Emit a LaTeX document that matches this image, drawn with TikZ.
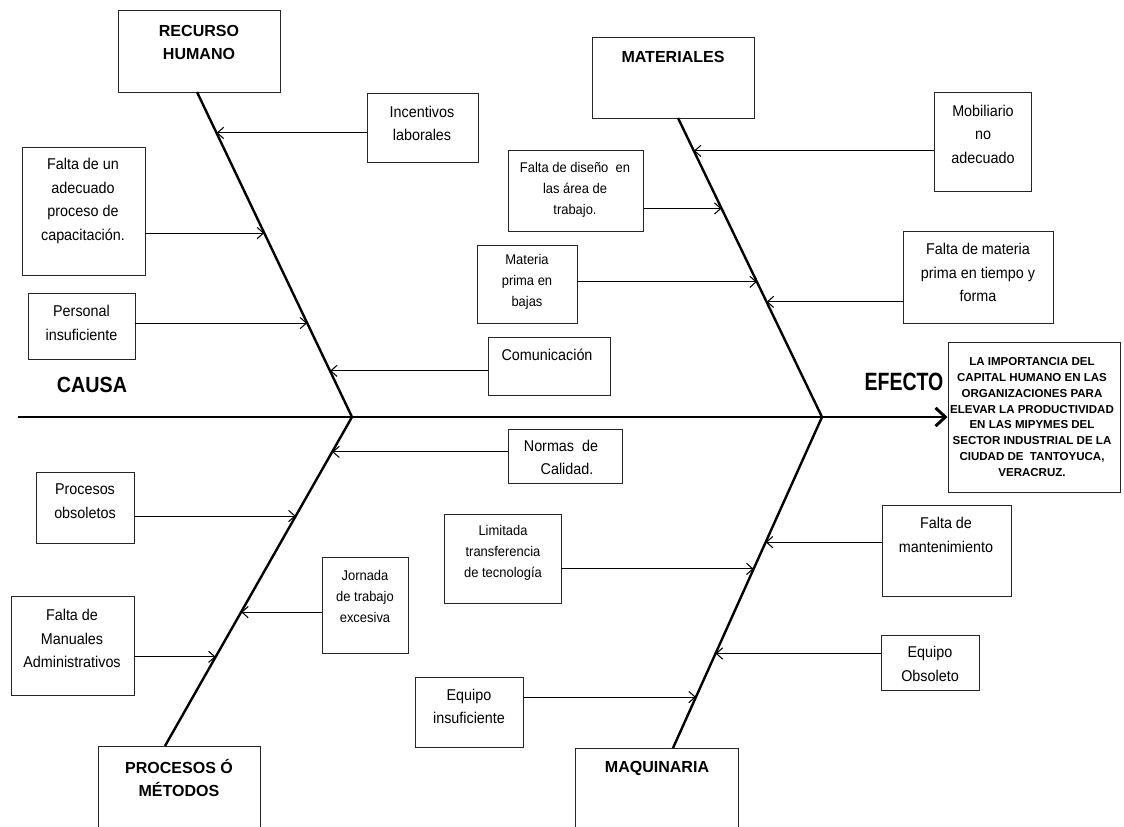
\documentclass[tikz,border=0pt]{standalone}
\usepackage{fontspec}
\setmainfont{Liberation Sans}
\newfontfamily\notefont{Liberation Sans}[FakeStretch=0.92]
\newfontfamily\condbold{Liberation Sans Bold}[FakeStretch=0.78]
\newfontfamily\causafont{Liberation Sans Bold}[FakeStretch=0.9]
\usetikzlibrary{arrows.meta,calc,fit}

\tikzset{
  box/.style={draw=black!85, line width=0.7pt, inner sep=0pt},
  note/.style={align=center, inner sep=0pt, font=\notefont\fontsize{11.1}{16.7}\selectfont},
  notesmall/.style={align=center, inner sep=0pt, font=\notefont\fontsize{10.0}{14.9}\selectfont},
  head/.style={align=center, inner sep=0pt, font=\bfseries\fontsize{11.4}{16.4}\selectfont},
  efftext/.style={align=center, inner sep=0pt, font=\bfseries\fontsize{8.2}{11.2}\selectfont},
  bone/.style={line width=1.7pt, line join=round},
  spine/.style={line width=2.1pt, -{Straight Barb[length=7pt,width=13pt]}},
  cause/.style={line width=0.75pt, -{Straight Barb[length=4.5pt,width=8pt]}},
}

\begin{document}
\begin{tikzpicture}[x=0.025cm, y=-0.025cm]
\clip (0,0) rectangle (1124,827);
\fill[white] (0,0) rectangle (1124,827);

% ---- category boxes ----
\node[box, fit={(118,10) (280,92)}] (rh) {};
\node[head] (rht) at (199,42.5) {RECURSO\\HUMANO};
\node[box, fit={(592,37) (754,118)}] (mat) {};
\node[head] (matt) at (673,57) {MATERIALES};
\node[box, fit={(98,746) (260,845)}] (pro) {};
\node[head] (prot) at (179,777.5) {PROCESOS Ó\\MÉTODOS};
\node[box, fit={(575,748) (738,845)}] (maq) {};
\node[head] (maqt) at (657,768) {MAQUINARIA};

% ---- effect ----
\node[box, fit={(948,342) (1120,492)}] (eff) {};
\node[efftext] (efft) at (1032,417) {LA IMPORTANCIA DEL\\CAPITAL HUMANO EN LAS\\ORGANIZACIONES PARA\\ELEVAR LA PRODUCTIVIDAD\\EN LAS MIPYMES DEL\\SECTOR INDUSTRIAL DE LA\\CIUDAD DE\ \ TANTOYUCA,\\VERACRUZ.};
\node[inner sep=0pt, font=\condbold\fontsize{17.8}{20}\selectfont] (efecto) at (904,382) {EFECTO};
\node[inner sep=0pt, font=\causafont\fontsize{15.6}{18}\selectfont] (causa) at (92,385) {CAUSA};

% ---- spine and bones ----
\coordinate (s0) at (18,417);
\coordinate (j1) at (352,417);
\coordinate (j2) at (822,417);
\coordinate (rhA) at (197,92);
\coordinate (matA) at (678,118);
\coordinate (proA) at (165,746);
\coordinate (maqA) at (673,748);
\draw[spine] (s0) -- (eff.west |- s0);
\draw[bone] (rhA) -- (j1) -- (proA);
\draw[bone] (matA) -- (j2) -- (maqA);

% ---- points where the causes meet the bones ----
\coordinate (t1) at ($(rhA)!0.126!(j1)$);
\coordinate (t2) at ($(rhA)!0.434!(j1)$);
\coordinate (t3) at ($(rhA)!0.711!(j1)$);
\coordinate (t4) at ($(rhA)!0.858!(j1)$);
\coordinate (t5) at ($(matA)!0.110!(j2)$);
\coordinate (t6) at ($(matA)!0.3025!(j2)$);
\coordinate (t7) at ($(matA)!0.548!(j2)$);
\coordinate (t8) at ($(matA)!0.615!(j2)$);
\coordinate (t9) at ($(j1)!0.106!(proA)$);
\coordinate (t10) at ($(j1)!0.301!(proA)$);
\coordinate (t11) at ($(j1)!0.593!(proA)$);
\coordinate (t12) at ($(j1)!0.729!(proA)$);
\coordinate (t13) at ($(j2)!0.459!(maqA)$);
\coordinate (t14) at ($(j2)!0.378!(maqA)$);
\coordinate (t15) at ($(j2)!0.7145!(maqA)$);
\coordinate (t16) at ($(j2)!0.846!(maqA)$);

% ---- recurso humano ----
\node[box, fit={(367,93) (478,162)}] (b1) {};
\node[note] (b1t) at (422,123.5) {Incentivos\\laborales};
\draw[cause] (b1.west |- t1) -- (t1);

\node[box, fit={(22,147) (145,275)}] (b2) {};
\node[note] (b2t) at (83,201) {Falta de un\\adecuado\\proceso de\\capacitación.};
\draw[cause] (b2.east |- t2) -- (t2);

\node[box, fit={(28,293) (135,359)}] (b3) {};
\node[note] (b3t) at (81.5,323) {Personal\\insuficiente};
\draw[cause] (b3.east |- t3) -- (t3);

\node[box, fit={(488,337) (610,395)}] (b4) {};
\node[note] (b4t) at (547,355) {Comunicación};
\draw[cause] (b4.west |- t4) -- (t4);

% ---- materiales ----
\node[box, fit={(934,92) (1031,191)}] (b5) {};
\node[note] (b5t) at (983,134) {Mobiliario\\no\\adecuado};
\draw[cause] (b5.west |- t5) -- (t5);

\node[box, fit={(508,150) (643,231)}] (b6) {};
\node[notesmall] (b6t) at (575,190) {Falta de diseño\ \ en\\las área de\\trabajo.};
\draw[cause] (b6.east |- t6) -- (t6);

\node[box, fit={(477,245) (577,323)}] (b7) {};
\node[notesmall] (b7t) at (527,282) {Materia\\prima en\\bajas};
\draw[cause] (b7.east |- t7) -- (t7);

\node[box, fit={(903,231) (1053,323)}] (b8) {};
\node[note] (b8t) at (978,272.5) {Falta de materia\\prima en tiempo y\\forma};
\draw[cause] (b8.west |- t8) -- (t8);

% ---- procesos o metodos ----
\node[box, fit={(508,429) (622,483)}] (b9) {};
\node[note] (b9t) at (561,457.5) {Normas\ \ de\\\ \ \ Calidad.};
\draw[cause] (b9.west |- t9) -- (t9);

\node[box, fit={(36,472) (134,543)}] (b10) {};
\node[note] (b10t) at (85,501) {Procesos\\obsoletos};
\draw[cause] (b10.east |- t10) -- (t10);

\node[box, fit={(322,557) (408,653)}] (b11) {};
\node[notesmall] (b11t) at (365,596.5) {Jornada\\de trabajo\\excesiva};
\draw[cause] (b11.west |- t11) -- (t11);

\node[box, fit={(11,596) (134,695)}] (b12) {};
\node[note] (b12t) at (72,638.5) {Falta de\\Manuales\\Administrativos};
\draw[cause] (b12.east |- t12) -- (t12);

% ---- maquinaria ----
\node[box, fit={(444,514) (561,603)}] (b13) {};
\node[notesmall] (b13t) at (503,552.5) {Limitada\\transferencia\\de tecnología};
\draw[cause] (b13.east |- t13) -- (t13);

\node[box, fit={(882,505) (1011,596)}] (b14) {};
\node[note] (b14t) at (946,535) {Falta de\\mantenimiento};
\draw[cause] (b14.west |- t14) -- (t14);

\node[box, fit={(881,635) (979,690)}] (b15) {};
\node[note] (b15t) at (930,664) {Equipo\\Obsoleto};
\draw[cause] (b15.west |- t15) -- (t15);

\node[box, fit={(415,677) (523,747)}] (b16) {};
\node[note] (b16t) at (469,706.5) {Equipo\\insuficiente};
\draw[cause] (b16.east |- t16) -- (t16);
\end{tikzpicture}
\end{document}
